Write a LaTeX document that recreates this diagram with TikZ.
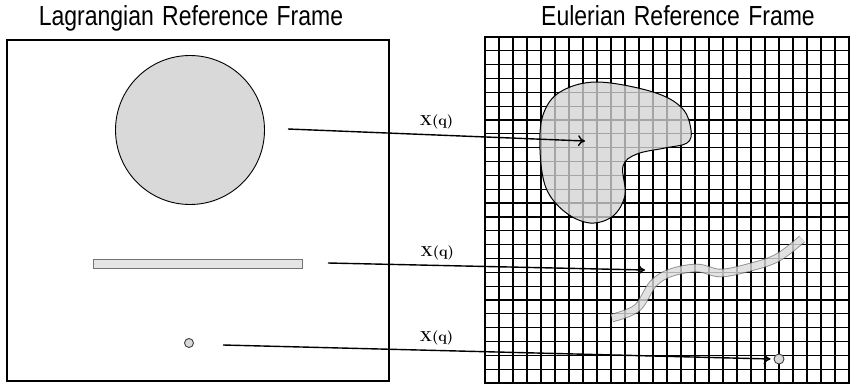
\documentclass[tikz,border=0pt]{standalone}
\usepackage{fontspec}
\setmainfont{Liberation Sans}
\newfontfamily\titlefont[WordSpace=1.3]{Liberation Sans}
\usepackage{amsmath}
\usepackage{tikz}
\usetikzlibrary{arrows.meta,positioning,calc}

\begin{document}
\begin{tikzpicture}[
    x=1pt, y=-1pt,
    >={To[length=7pt,width=11pt]},
    title/.style={font=\titlefont\fontsize{23}{26}\selectfont, anchor=base, inner sep=0pt},
    frame/.style={draw=black, line width=2pt},
    gridline/.style={draw=black, line width=1.2pt},
    body/.style={draw=black, fill=black!15, line width=0.9pt},
    map/.style={->, line width=1.4pt},
    maplabel/.style={font=\fontsize{14.5}{16}\selectfont, inner sep=1pt}
]

% Stable crop.
\path[use as bounding box] (0,0) rectangle (854,388);

% --------------------------------------------------
% Titles
% --------------------------------------------------
\node[title] (lagtitle) at (191,25) {\scalebox{1}[1.2]{Lagrangian Reference Frame}};
\node[title] (eultitle) at (678,25) {\scalebox{1}[1.2]{Eulerian Reference Frame}};

% --------------------------------------------------
% Lagrangian frame: undeformed bodies
% --------------------------------------------------
\draw[frame] (7,40) rectangle (389,381);

\node[body, circle, minimum size=149pt, inner sep=0pt] (lagdisk) at (190,130) {};
\node[draw=black!55, fill=black!10, line width=0.8pt, minimum width=209pt,
      minimum height=9pt, inner sep=0pt] (lagfiber) at (197.5,263.5) {};
\node[body, draw=black!75, circle, minimum size=9pt, inner sep=0pt] (lagpoint) at (189,343) {};

% Start points of the maps, right of each body.
\coordinate (diskout)  at (288,129);
\coordinate (fiberout) at (328,263);
\coordinate (pointout) at (223,345);

% --------------------------------------------------
% Eulerian frame: fixed Cartesian grid
% --------------------------------------------------
\begin{scope}[shift={(485,37)}]
\foreach \i in {1,...,25}
    \draw[gridline] (\i*14,0) -- (\i*14,346);
\foreach \j in {1,...,24}
    \draw[gridline] (0,\j*13.84) -- (364,\j*13.84);
\draw[line width=2.4pt] (0,0) rectangle (364,346);
\end{scope}

% --------------------------------------------------
% Eulerian frame: deformed bodies, drawn over the grid
% --------------------------------------------------
\draw[body, fill=black!17, fill opacity=0.78, line width=1pt]
    plot[smooth cycle, tension=0.6] coordinates {
    (597,82) (653,92) (682,108) (691,130) (687,143) (665,148)
    (637,154) (623,166) (625,195) (613,216) (590,223) (565,212)
    (546,188) (540,150) (543,115) (560,92)};

\begin{scope}[transparency group, opacity=0.8]
\draw[line width=8.5pt, draw=black!55]
    plot[smooth, tension=0.6] coordinates {
    (612,318) (637,308) (653,284) (670,273) (697,268)
    (720,273) (747,268) (777,258) (802,239)};
\draw[line width=6.7pt, draw=black!14]
    plot[smooth, tension=0.6] coordinates {
    (612,318) (637,308) (653,284) (670,273) (697,268)
    (720,273) (747,268) (777,258) (802,239)};
\end{scope}

\node[body, draw=black!75, circle, minimum size=10pt, inner sep=0pt] (eulpoint) at (779,359) {};

% Map end points inside the Eulerian frame.
\coordinate (diskin)  at (585,141);
\coordinate (fiberin) at (645,270);
\coordinate (pointin) at ([xshift=-3pt]eulpoint.west);

% --------------------------------------------------
% Lagrangian-to-Eulerian maps X(q)
% --------------------------------------------------
\draw[map] (diskout) -- node[maplabel, pos=0.5, above=4pt]
    {$\boldsymbol{\mathbf{X}(\mathbf{q})}$} (diskin);
\draw[map] (fiberout) -- node[maplabel, pos=0.345, above=4pt]
    {$\boldsymbol{\mathbf{X}(\mathbf{q})}$} (fiberin);
\draw[map] (pointout) -- node[maplabel, pos=0.39, above=4pt]
    {$\boldsymbol{\mathbf{X}(\mathbf{q})}$} (pointin);

\end{tikzpicture}
\end{document}
